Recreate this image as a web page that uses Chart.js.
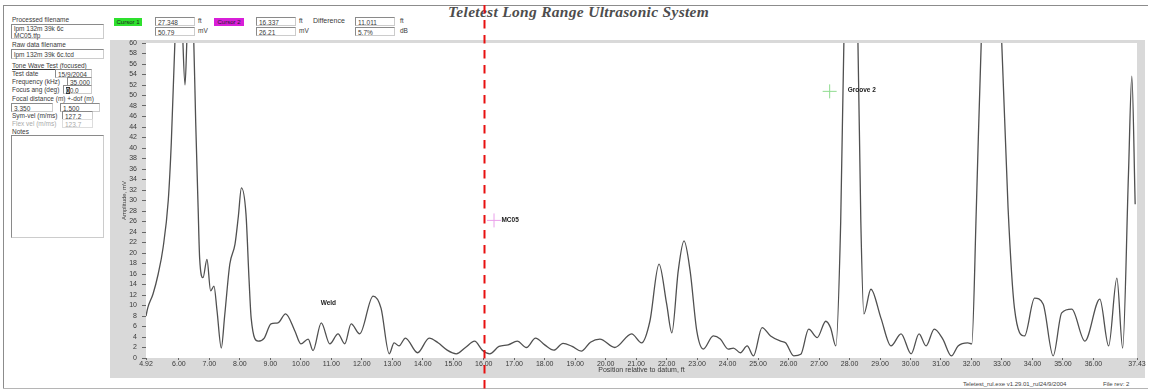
<!DOCTYPE html>
<html>
<head>
<meta charset="utf-8">
<script src="https://cdn.jsdelivr.net/npm/chart.js@4.4.1/dist/chart.umd.min.js"></script>
<style>
  body { margin:0; width:1151px; height:392px; background:#fff; overflow:hidden; position:relative;
         font-family:"Liberation Sans", Arial, sans-serif; }
  .t { position:absolute; font-size:6.5px; line-height:8px; color:#3a3a3a; white-space:nowrap; }
  .box { position:absolute; border:1px solid #8a8a8a; border-right-color:#ccc; border-bottom-color:#ccc;
         background:#fff; font-size:6.5px; line-height:7px; color:#3a3a3a; padding:0 0 0 2px; box-sizing:border-box; white-space:nowrap; }
  .badge { position:absolute; font-size:6px; line-height:8px; height:8px; color:#222; text-align:center; box-sizing:border-box; }
  .line { position:absolute; background:#8c8c8c; }
  #title { position:absolute; left:448px; top:3px; font-family:"Liberation Serif", "Times New Roman", serif;
           font-style:italic; font-weight:bold; font-size:15.5px; color:#4d4d4d; white-space:nowrap; letter-spacing:0.3px; }
  #chartWrap { position:absolute; left:0; top:0; width:1151px; height:392px; z-index:5; pointer-events:none; }
</style>
</head>
<body>
<!-- frame -->
<div class="line" style="left:3px; top:5px; width:1145px; height:1px;"></div>
<div class="line" style="left:3px; top:5px; width:1px; height:384px;"></div>
<div class="line" style="left:3px; top:388px; width:1145px; height:1px; background:#b5b5b5;"></div>

<div id="title">Teletest Long Range Ultrasonic System</div>

<!-- left information panel -->
<div class="t" style="left:12px; top:16px;">Processed filename</div>
<div class="box" style="left:11px; top:24px; width:93px; height:15px; line-height:6.5px; padding-top:1px;">lpm 132m 39k 6c<br>MC05.tfp</div>
<div class="t" style="left:12px; top:41px;">Raw data filename</div>
<div class="box" style="left:11px; top:49px; width:93px; height:10px; padding-top:1px;">lpm 132m 39k 6c.tcd</div>
<div class="t" style="left:12px; top:62px; text-decoration:underline;">Tone Wave Test (focused)</div>
<div class="t" style="left:12px; top:70px;">Test date</div>
<div class="box" style="left:55px; top:69px; width:37px; height:9px; padding-top:1px;">15/9/2004</div>
<div class="t" style="left:12px; top:78px;">Frequency (kHz)</div>
<div class="box" style="left:67px; top:77px; width:25px; height:9px; padding-top:1px;">35.000</div>
<div class="t" style="left:12px; top:86px;">Focus ang (deg)</div>
<div class="box" style="left:63px; top:85px; width:29px; height:9px; padding-top:1px;"><span style="background:#333;color:#fff;">0</span>0.0</div>
<div class="t" style="left:12px; top:95px;">Focal distance (m) +-dof (m)</div>
<div class="box" style="left:11px; top:103px; width:42px; height:9px; padding-top:1px;">3.350</div>
<div class="box" style="left:60px; top:103px; width:40px; height:9px; padding-top:1px;">1.500</div>
<div class="t" style="left:12px; top:112px;">Sym-vel (m/ms)</div>
<div class="box" style="left:62px; top:111px; width:31px; height:9px; padding-top:1px;">127.2</div>
<div class="t" style="left:12px; top:120px; color:#aaa;">Flex vel (m/ms)</div>
<div class="box" style="left:62px; top:119px; width:31px; height:9px; padding-top:1px; color:#aaa; border-color:#ddd;">123.7</div>
<div class="t" style="left:12px; top:128px;">Notes</div>
<div class="box" style="left:11px; top:135px; width:93px; height:103px;"></div>

<!-- cursor readouts -->
<div class="badge" style="left:114px; top:18px; width:28px; background:#2ee02e;">Cursor 1</div>
<div class="box" style="left:155px; top:17px; width:40px; height:9px; padding-top:1px;">27.348</div>
<div class="box" style="left:155px; top:27px; width:40px; height:9px; padding-top:1px;">50.79</div>
<div class="t" style="left:198px; top:17px;">ft</div>
<div class="t" style="left:198px; top:27px;">mV</div>

<div class="badge" style="left:214px; top:18px; width:30px; background:#d81fd8;">Cursor 2</div>
<div class="box" style="left:256px; top:17px; width:40px; height:9px; padding-top:1px;">16.337</div>
<div class="box" style="left:256px; top:27px; width:40px; height:9px; padding-top:1px;">26.21</div>
<div class="t" style="left:299px; top:17px;">ft</div>
<div class="t" style="left:299px; top:27px;">mV</div>

<div class="t" style="left:313px; top:17px; font-size:7px;">Difference</div>
<div class="box" style="left:355px; top:17px; width:40px; height:9px; padding-top:1px;">11.011</div>
<div class="box" style="left:355px; top:27px; width:40px; height:9px; padding-top:1px;">5.7%</div>
<div class="t" style="left:400px; top:17px;">ft</div>
<div class="t" style="left:400px; top:27px;">dB</div>

<div class="t" style="left:963px; top:380px; font-size:6px; color:#444;">Teletest_rul.exe v1.29.01_rul24/9/2004</div>
<div class="t" style="left:1103px; top:380px; font-size:6px; color:#444;">File rev: 2</div>

<div id="chartWrap"><canvas id="chart" width="1151" height="392"></canvas></div>

<script>
// Trace: amplitude (mV) against position relative to datum (ft)
const positionFt = [
  4.92, 4.98, 5.15, 5.32, 5.48, 5.65, 5.75, 5.87, 5.95, 6.05,
  6.12, 6.20, 6.27, 6.38, 6.48, 6.55, 6.63, 6.68, 6.79, 6.92,
  7.04, 7.15, 7.25, 7.39, 7.50, 7.67, 7.84, 7.95, 8.05, 8.20,
  8.30, 8.37, 8.60, 8.80, 9.02, 9.25, 9.50, 9.80, 10.00, 10.24,
  10.40, 10.67, 10.95, 11.22, 11.44, 11.65, 11.93, 12.37, 12.63, 12.90,
  13.06, 13.22, 13.43, 13.83, 14.21, 14.50, 14.80, 15.10, 15.40, 15.70,
  15.95, 16.20, 16.50, 16.80, 17.10, 17.40, 17.70, 18.00, 18.30, 18.60,
  18.90, 19.20, 19.50, 19.81, 20.30, 20.85, 21.18, 21.45, 21.75, 22.00,
  22.17, 22.38, 22.57, 22.77, 22.99, 23.20, 23.53, 23.76, 24.02, 24.19,
  24.42, 24.64, 24.85, 25.13, 25.41, 25.74, 25.90, 26.17, 26.40, 26.66,
  26.94, 27.22, 27.38, 27.55, 27.71, 27.82, 27.95, 28.12, 28.27, 28.37,
  28.47, 28.70, 29.03, 29.36, 29.69, 30.02, 30.28, 30.51, 30.78, 31.06,
  31.34, 31.56, 31.88, 32.01, 32.16, 32.33, 32.55, 32.80, 32.98, 33.20,
  33.41, 33.74, 34.07, 34.35, 34.68, 34.96, 35.29, 35.72, 36.21, 36.50,
  36.77, 36.96, 37.15, 37.26, 37.37
];
const amplitudeMv = [
  8.0, 9.6, 12.2, 16.0, 21.0, 30.0, 41.0, 60.5, 70.0, 75.0,
  62.0, 52.0, 62.0, 75.0, 62.0, 45.0, 28.6, 19.0, 15.3, 18.8,
  12.8, 13.7, 9.0, 1.9, 8.0, 17.9, 21.7, 27.0, 32.4, 27.4,
  15.0, 7.6, 3.2, 3.8, 6.5, 6.7, 8.4, 5.2, 2.7, 3.6,
  1.4, 6.7, 2.7, 4.6, 2.7, 6.5, 4.6, 11.8, 9.5, 0.8,
  2.9, 2.3, 3.8, 1.0, 3.8, 2.9, 1.5, 0.8, 2.0, 3.2,
  1.5, 0.8, 2.2, 2.5, 3.2, 2.0, 3.8, 2.5, 1.5, 2.8,
  2.2, 1.3, 3.0, 3.6, 2.0, 4.6, 2.9, 7.0, 17.9, 10.3,
  4.8, 16.6, 22.3, 16.6, 5.1, 1.7, 4.2, 3.6, 1.7, 1.9,
  1.0, 2.3, 0.4, 5.8, 4.2, 3.2, 2.9, 0.4, 0.7, 5.5,
  3.9, 7.0, 5.7, 2.3, 26.0, 62.0, 80.0, 80.0, 62.0, 26.0,
  8.4, 13.1, 7.6, 2.3, 4.6, 0.8, 4.6, 2.3, 5.5, 3.6,
  0.4, 2.3, 2.9, 2.7, 28.6, 62.0, 80.0, 80.0, 62.0, 28.6,
  9.5, 4.2, 11.4, 10.3, 0.4, 8.6, 9.3, 3.2, 11.2, 2.3,
  15.2, 1.9, 35.0, 53.7, 29.3
];

// Axis ticks
const xTickValues = [4.92, 6, 7, 8, 9, 10, 11, 12, 13, 14, 15, 16, 17, 18, 19, 20, 21,
  22, 23, 24, 25, 26, 27, 28, 29, 30, 31, 32, 33, 34, 35, 36, 37.43];
const yMin = 0, yMax = 60, yStep = 2;

// Cursors (ft, mV)
const cursorFt = [27.348, 16.337];
const cursorMv = [50.79, 26.21];
const cursorColors = ['#8fdc8f', '#eaa0ea'];

// Feature labels (anchored in data coordinates)
const featureText = ['Weld', 'MC05', 'Groove 2'];
const featureFt = [10.65, 16.58, 27.94];
const featureMv = [10.4, 26.3, 51.0];

// Position of the dashed reference marker
const markerFt = 16.0;

const trace = positionFt.map((x, i) => ({ x, y: amplitudeMv[i] }));

const panelPlugin = {
  id: 'panel',
  beforeDraw(chart) {
    const { ctx, chartArea: a } = chart;
    ctx.save();
    ctx.fillStyle = '#d9d9d9';
    ctx.fillRect(a.left - 36, a.top - 3, (a.right + 8) - (a.left - 36), (a.bottom + 20) - (a.top - 3));
    ctx.fillStyle = '#ffffff';
    ctx.fillRect(a.left, a.top, a.right - a.left, a.bottom - a.top);
    ctx.restore();
  },
  afterDraw(chart) {
    const { ctx, scales: { x, y } } = chart;
    ctx.save();
    ctx.font = 'bold 6.5px "Liberation Sans", Arial, sans-serif';
    ctx.fillStyle = '#222';
    ctx.textBaseline = 'middle';
    ctx.textAlign = 'left';
    featureText.forEach((t, i) => {
      ctx.fillText(t, x.getPixelForValue(featureFt[i]), y.getPixelForValue(featureMv[i]));
    });
    // dashed red marker spanning the full height
    const px = Math.round(x.getPixelForValue(markerFt)) + 0.5;
    ctx.strokeStyle = '#e81010';
    ctx.lineWidth = 2;
    ctx.setLineDash([8.5, 6.5]);
    ctx.lineDashOffset = 10;
    ctx.beginPath();
    ctx.moveTo(px, 0);
    ctx.lineTo(px, chart.height);
    ctx.stroke();
    ctx.restore();
  }
};

const smallFont = { family: '"Liberation Sans", Arial, sans-serif', size: 7 };

new Chart(document.getElementById('chart'), {
  type: 'line',
  data: {
    datasets: [
      {
        data: trace,
        borderColor: '#505050',
        borderWidth: 1.3,
        pointRadius: 0,
        cubicInterpolationMode: 'monotone',
        fill: false
      },
      {
        type: 'scatter',
        data: cursorFt.map((x, i) => ({ x, y: cursorMv[i] })),
        pointStyle: 'cross',
        pointRadius: 7,
        borderWidth: 1,
        borderColor: cursorColors,
        backgroundColor: cursorColors
      }
    ]
  },
  options: {
    responsive: false,
    animation: false,
    devicePixelRatio: 1,
    layout: { padding: { left: 110, right: 14, top: 43, bottom: 14 } },
    plugins: { legend: { display: false }, tooltip: { enabled: false } },
    scales: {
      x: {
        type: 'linear',
        min: xTickValues[0],
        max: xTickValues[xTickValues.length - 1],
        afterBuildTicks(scale) { scale.ticks = xTickValues.map(v => ({ value: v })); },
        afterFit(scale) { scale.height = 20; },
        ticks: {
          autoSkip: false, maxRotation: 0, padding: 0,
          font: smallFont, color: '#3a3a3a',
          callback: v => Number(v).toFixed(2)
        },
        grid: { drawOnChartArea: false, tickLength: 2, color: '#666' },
        border: { display: false },
        title: {
          display: true, text: 'Position relative to datum, ft',
          font: smallFont, color: '#3a3a3a', padding: { top: 0, bottom: 4 }
        }
      },
      y: {
        min: yMin, max: yMax,
        afterFit(scale) { scale.width = 36; },
        ticks: { stepSize: yStep, autoSkip: false, padding: 5, font: smallFont, color: '#3a3a3a' },
        grid: { drawOnChartArea: false, tickLength: 4, color: '#666' },
        border: { display: false },
        title: {
          display: true, text: 'Amplitude, mV',
          font: { family: '"Liberation Sans", Arial, sans-serif', size: 6 },
          color: '#3a3a3a', padding: { top: 11, bottom: 0 }
        }
      }
    }
  },
  plugins: [panelPlugin]
});
</script>
</body>
</html>
